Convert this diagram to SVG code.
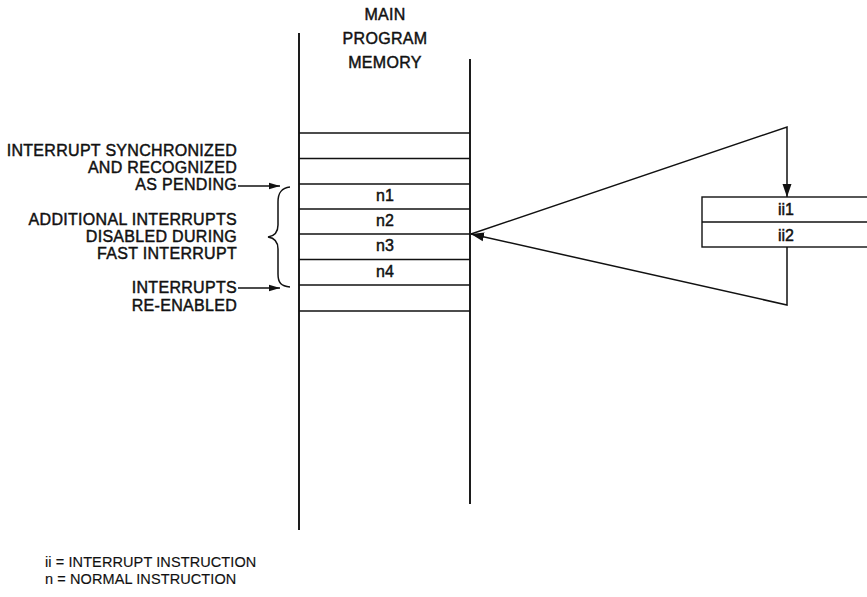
<svg xmlns="http://www.w3.org/2000/svg" width="867" height="597" viewBox="0 0 867 597">
  <style>
    text { font-family: "Liberation Sans", Arial, Helvetica, sans-serif; fill: #111; }
    .lbl { font-size: 16px; letter-spacing: 0.3px; stroke: #111; stroke-width: 0.45px; }
    .cell { font-size: 16px; text-anchor: middle; stroke: #111; stroke-width: 0.45px; }
    .leg { font-size: 14.5px; letter-spacing: 0.1px; stroke: #111; stroke-width: 0.15px; }
    .ln { stroke: #111; stroke-width: 1.4; fill: none; }
    .vl { stroke: #111; stroke-width: 1.9; fill: none; }
    .conn { stroke: #111; stroke-width: 1.5; fill: none; }
  </style>
  <defs>
    <marker id="ah" markerWidth="14" markerHeight="10" refX="13" refY="5" orient="auto" markerUnits="userSpaceOnUse">
      <path d="M0,0.5 L13,5 L0,9.5 Z" fill="#111"/>
    </marker>
    <marker id="ahs" markerWidth="12" markerHeight="8" refX="11" refY="4" orient="auto" markerUnits="userSpaceOnUse">
      <path d="M0,0.8 L11,4 L0,7.2 Z" fill="#111"/>
    </marker>
  </defs>
  <rect width="867" height="597" fill="#fff"/>

  <g id="memory-title">
    <text class="cell" x="385" y="20" style="letter-spacing:0.3px">MAIN</text>
    <text class="cell" x="385" y="44" style="letter-spacing:0.3px">PROGRAM</text>
    <text class="cell" x="385" y="68" style="letter-spacing:0.3px">MEMORY</text>
  </g>

  <g id="main-memory">
    <line class="vl" x1="299" y1="33" x2="299" y2="530"/>
    <line class="vl" x1="470" y1="59" x2="470" y2="504"/>
    <line class="ln" x1="299" y1="133" x2="470" y2="133"/>
    <line class="ln" x1="299" y1="158.5" x2="470" y2="158.5"/>
    <line class="ln" x1="299" y1="184" x2="470" y2="184"/>
    <line class="ln" x1="299" y1="209" x2="470" y2="209"/>
    <line class="ln" x1="299" y1="234" x2="470" y2="234"/>
    <line class="ln" x1="299" y1="259.5" x2="470" y2="259.5"/>
    <line class="ln" x1="299" y1="285" x2="470" y2="285"/>
    <line class="ln" x1="299" y1="311" x2="470" y2="311"/>
  </g>
  <g id="cell-n1"><text class="cell" x="385" y="201">n1</text></g>
  <g id="cell-n2"><text class="cell" x="385" y="226">n2</text></g>
  <g id="cell-n3"><text class="cell" x="385" y="251">n3</text></g>
  <g id="cell-n4"><text class="cell" x="385" y="277">n4</text></g>

  <g id="interrupt-box">
    <rect class="ln" x="702" y="197" width="170" height="50"/>
    <line class="ln" x1="702" y1="222" x2="872" y2="222"/>
    <text class="cell" x="786" y="215">ii1</text>
    <text class="cell" x="786" y="241">ii2</text>
  </g>

  <g id="label-pending">
    <text class="lbl" x="237" y="156" text-anchor="end">INTERRUPT SYNCHRONIZED</text>
    <text class="lbl" x="237" y="173" text-anchor="end">AND RECOGNIZED</text>
    <text class="lbl" x="237" y="190" text-anchor="end">AS PENDING</text>
  </g>
  <g id="label-disabled">
    <text class="lbl" x="237" y="225" text-anchor="end">ADDITIONAL INTERRUPTS</text>
    <text class="lbl" x="237" y="242" text-anchor="end">DISABLED DURING</text>
    <text class="lbl" x="237" y="259" text-anchor="end">FAST INTERRUPT</text>
  </g>
  <g id="label-reenabled">
    <text class="lbl" x="237" y="293" text-anchor="end">INTERRUPTS</text>
    <text class="lbl" x="237" y="311" text-anchor="end">RE-ENABLED</text>
  </g>

  <g id="brace">
    <path class="conn" d="M290,187 C281,188 278,193 278,202 L278,225 C278,232 275,236 268,237 C275,238 278,242 278,249 L278,274 C278,283 281,286 290,287"/>
  </g>

  <g id="connectors">
    <line class="conn" x1="238" y1="186" x2="280" y2="186" marker-end="url(#ahs)"/>
    <line class="conn" x1="238" y1="288" x2="280" y2="288" marker-end="url(#ahs)"/>
    <polyline class="conn" points="471,234 787,127 787,197" marker-end="url(#ah)"/>
    <polyline class="conn" points="787,247 787,305 471,234" marker-end="url(#ah)"/>
  </g>

  <g id="legend">
    <text class="leg" x="45" y="567">ii = INTERRUPT INSTRUCTION</text>
    <text class="leg" x="45" y="584">n = NORMAL INSTRUCTION</text>
  </g>
</svg>
